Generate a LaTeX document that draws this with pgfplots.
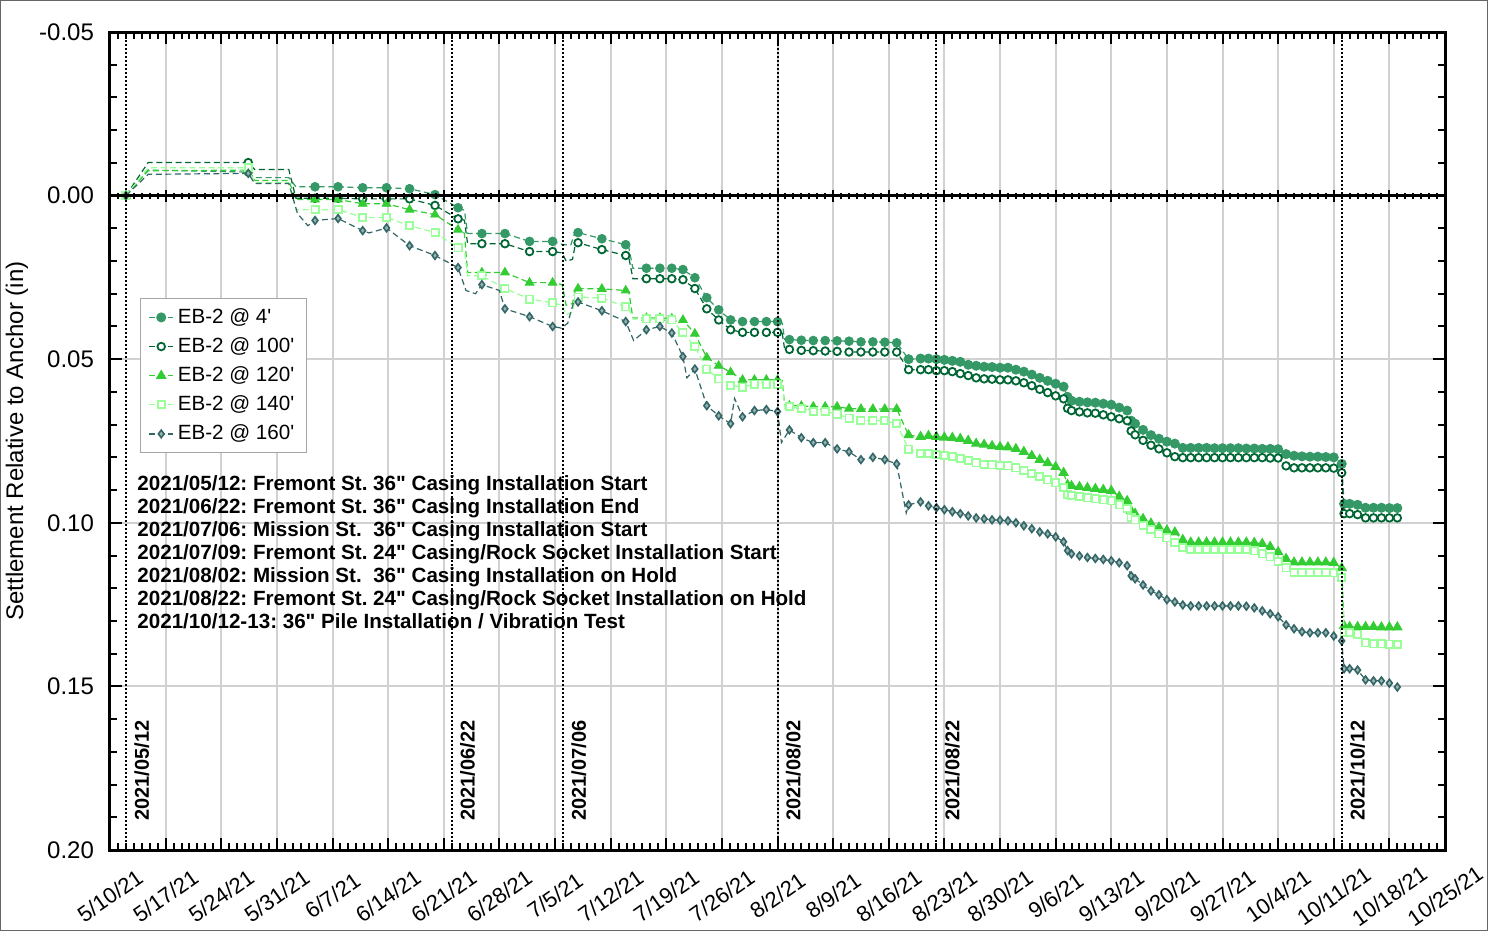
\documentclass[border=0pt]{standalone}
\usepackage{pgfplots}
\pgfplotsset{compat=1.18}
\usepackage{fontspec}
\setmainfont{Liberation Sans}[Ligatures=TeXOff]
\frenchspacing

\definecolor{c4}{RGB}{52,153,102}
\definecolor{c100}{RGB}{0,102,51}
\definecolor{c120}{RGB}{51,204,51}
\definecolor{c140}{RGB}{153,255,153}
\definecolor{c160}{RGB}{51,102,102}

\pgfplotsset{
  dline/.style={dash pattern=on 3pt off 1.8pt, line width=0.6pt},
  l4/.style={c4, dline}, l100/.style={c100, dline}, l120/.style={c120, dline},
  l140/.style={c140, dline}, l160/.style={c160, dline},
  m4/.style={mark=*, mark size=2.2pt, mark options={solid, fill=c4, draw=c4}},
  m100/.style={mark=*, mark size=1.9pt, mark options={solid, fill=white, draw=c100, line width=0.9pt}},
  m120/.style={mark=triangle*, mark size=2.5pt, mark options={solid, fill=c120, draw=c120}},
  m140/.style={mark=square*, mark size=1.8pt, mark options={solid, fill=white, draw=c140, line width=0.9pt}},
  m160/.style={mark=diamond*, mark size=1.9pt, mark options={solid, fill=c160!50!white, draw=c160, line width=0.8pt}},
}

\begin{document}
\begin{tikzpicture}
\begin{axis}[
  scale only axis, width=667.5pt, height=409pt,
  xmin=0, xmax=168, ymin=-0.05, ymax=0.20, y dir=reverse,
  xtick={0,7,...,168},
  xticklabels={5/10/21,5/17/21,5/24/21,5/31/21,6/7/21,6/14/21,6/21/21,6/28/21,7/5/21,7/12/21,7/19/21,7/26/21,8/2/21,8/9/21,8/16/21,8/23/21,8/30/21,9/6/21,9/13/21,9/20/21,9/27/21,10/4/21,10/11/21,10/18/21,10/25/21},
  ytick={-0.05,0,0.05,0.10,0.15,0.20},
  yticklabels={-0.05,0.00,0.05,0.10,0.15,0.20},
  minor x tick num=6, minor y tick num=4,
  xtick pos=both, ytick pos=both,
  tick style={black, line width=1pt},
  major tick length=6pt, minor tick length=3.5pt,
  axis line style={line width=1.5pt},
  grid=major, major grid style={line width=1pt, color=black!18},
  xticklabel style={font=\fontsize{11}{13}\selectfont, yshift=-23pt, rotate=35, anchor=center},
  yticklabel style={font=\fontsize{12}{14}\selectfont, xshift=-4.5pt},
  ylabel={Settlement Relative to Anchor (in)},
  every axis y label/.style={at={(axis description cs:-0.0697,0.5)}, rotate=90, anchor=center, font=\fontsize{12}{14}\selectfont},
  clip mode=individual,
  legend style={at={(axis description cs:0.0225,0.675)}, anchor=north west, draw=black!35, line width=0.6pt, fill=white,
    font=\fontsize{10.3}{12}\selectfont, row sep=1.6pt, inner xsep=4pt, inner ysep=3pt},
  legend cell align=left,
  legend image code/.code={\draw[mark repeat=2,mark phase=2] plot coordinates {(0pt,0pt)(6pt,0pt)(12pt,0pt)};},
]

% EB-2 @ 4'
\addplot[l4, forget plot] coordinates {(2,0)(4.8,-0.0078)(17.4,-0.0072)(18.1,-0.0055)(22.5,-0.0055)(23.4,-0.0027)(25.8,-0.0027)(28.7,-0.0027)(31.8,-0.0024)(34.8,-0.0024)(37.7,-0.0021)(40.9,-0.0003)(43.8,0.0037)(44.6,0.0045)(45.0,0.0116)(46.8,0.0116)(49.7,0.0116)(52.8,0.0140)(55.7,0.0140)(57.0,0.0150)(58.0,0.0150)(58.5,0.0113)(58.9,0.0113)(61.9,0.0132)(64.9,0.0150)(65.3,0.0160)(65.8,0.0222)(67.5,0.0222)(69.2,0.0222)(70.7,0.0222)(72.1,0.0226)(73.6,0.0251)(75.1,0.0312)(76.6,0.0349)(78.1,0.0380)(79.6,0.0385)(81.1,0.0385)(82.6,0.0385)(84.0,0.0385)(84.6,0.0390)(84.9,0.0440)(85.5,0.0440)(87.0,0.0442)(88.5,0.0443)(90.0,0.0443)(91.5,0.0444)(93.0,0.0445)(94.5,0.0447)(96.0,0.0447)(97.5,0.0448)(99.0,0.0450)(100.5,0.0500)};
\addplot[m4, only marks, forget plot] coordinates {(2,0)(17.4,-0.0072)(25.8,-0.0027)(28.7,-0.0027)(31.8,-0.0024)(34.8,-0.0024)(37.7,-0.0021)(40.9,-0.0003)(43.8,0.0037)(46.8,0.0116)(49.7,0.0116)(52.8,0.0140)(55.7,0.0140)(58.9,0.0113)(61.9,0.0132)(64.9,0.0150)(67.5,0.0222)(69.2,0.0222)(70.7,0.0222)(72.1,0.0226)(73.6,0.0251)(75.1,0.0312)(76.6,0.0349)(78.1,0.0380)(79.6,0.0385)(81.1,0.0385)(82.6,0.0385)(84.0,0.0385)(85.5,0.0440)(87.0,0.0442)(88.5,0.0443)(90.0,0.0443)(91.5,0.0444)(93.0,0.0445)(94.5,0.0447)(96.0,0.0447)(97.5,0.0448)(99.0,0.0450)};
\addplot[l4, m4] coordinates {(100.5,0.0500)(102,0.0498)(103,0.0498)(104,0.0500)(105,0.0502)(106,0.0505)(107,0.0508)(108,0.0517)(109,0.0520)(110,0.0523)(111,0.0524)(112,0.0526)(113,0.0526)(114,0.0532)(115,0.0538)(116,0.0547)(117,0.0557)(118,0.0566)(119,0.0575)(120,0.0584)(120.5,0.0615)(121,0.0627)(122,0.0630)(123,0.0632)(124,0.0633)(125,0.0636)(126,0.0639)(127,0.0648)(128,0.0657)(128.5,0.0688)(129,0.0697)(130,0.0716)(131,0.0732)(132,0.0743)(133,0.0752)(134,0.0758)(135,0.0771)(136,0.0771)(137,0.0771)(138,0.0771)(139,0.0772)(140,0.0772)(141,0.0772)(142,0.0772)(143,0.0773)(144,0.0773)(145,0.0774)(146,0.0774)(147,0.0775)(148,0.0790)(149,0.0795)(150,0.0797)(151,0.0798)(152,0.0798)(153,0.0799)(154,0.0800)(155,0.0820)(155.3,0.0942)(156,0.0942)(157,0.0945)(158,0.0954)(159,0.0954)(160,0.0954)(161,0.0955)(162,0.0955)};
\addlegendentry{EB-2 @ 4'}

% EB-2 @ 100'
\addplot[l100, forget plot] coordinates {(2,0)(4.8,-0.0101)(17.4,-0.0101)(18.2,-0.0080)(22.5,-0.0080)(23.4,0.0008)(25.8,0.0008)(28.7,0.0008)(31.8,0.0010)(34.8,0.0010)(37.7,0.0010)(40.9,0.0030)(43.8,0.0071)(44.6,0.0075)(45.0,0.0147)(46.8,0.0147)(49.7,0.0147)(52.8,0.0171)(55.7,0.0171)(56.9,0.0175)(57.4,0.0200)(58.2,0.0195)(58.6,0.0144)(58.9,0.0144)(61.9,0.0165)(64.9,0.0183)(65.3,0.0190)(65.8,0.0254)(67.5,0.0254)(69.2,0.0254)(70.7,0.0254)(72.1,0.0257)(73.6,0.0284)(75.1,0.0346)(76.6,0.0380)(78.1,0.0410)(79.6,0.0418)(81.1,0.0418)(82.6,0.0418)(84.0,0.0418)(84.6,0.0421)(84.9,0.0470)(85.5,0.0470)(87.0,0.0473)(88.5,0.0474)(90.0,0.0475)(91.5,0.0476)(93.0,0.0478)(94.5,0.0478)(96.0,0.0478)(97.5,0.0478)(99.0,0.0478)(100.5,0.0532)};
\addplot[m100, only marks, forget plot] coordinates {(2,0)(17.4,-0.0101)(25.8,0.0008)(28.7,0.0008)(31.8,0.0010)(34.8,0.0010)(37.7,0.0010)(40.9,0.0030)(43.8,0.0071)(46.8,0.0147)(49.7,0.0147)(52.8,0.0171)(55.7,0.0171)(58.9,0.0144)(61.9,0.0165)(64.9,0.0183)(67.5,0.0254)(69.2,0.0254)(70.7,0.0254)(72.1,0.0257)(73.6,0.0284)(75.1,0.0346)(76.6,0.0380)(78.1,0.0410)(79.6,0.0418)(81.1,0.0418)(82.6,0.0418)(84.0,0.0418)(85.5,0.0470)(87.0,0.0473)(88.5,0.0474)(90.0,0.0475)(91.5,0.0476)(93.0,0.0478)(94.5,0.0478)(96.0,0.0478)(97.5,0.0478)(99.0,0.0478)};
\addplot[l100, m100] coordinates {(100.5,0.0532)(102,0.0532)(103,0.0532)(104,0.0535)(105,0.0535)(106,0.0538)(107,0.0544)(108,0.0550)(109,0.0557)(110,0.0560)(111,0.0561)(112,0.0563)(113,0.0563)(114,0.0566)(115,0.0572)(116,0.0581)(117,0.0592)(118,0.0602)(119,0.0612)(120,0.0621)(120.5,0.0650)(121,0.0657)(122,0.0661)(123,0.0664)(124,0.0665)(125,0.0670)(126,0.0676)(127,0.0682)(128,0.0688)(128.5,0.0719)(129,0.0731)(130,0.0748)(131,0.0763)(132,0.0774)(133,0.0786)(134,0.0798)(135,0.0801)(136,0.0801)(137,0.0801)(138,0.0801)(139,0.0801)(140,0.0801)(141,0.0801)(142,0.0801)(143,0.0801)(144,0.0801)(145,0.0801)(146,0.0802)(147,0.0802)(148,0.0826)(149,0.0832)(150,0.0832)(151,0.0832)(152,0.0832)(153,0.0832)(154,0.0833)(155,0.0847)(155.3,0.0972)(156,0.0972)(157,0.0975)(158,0.0985)(159,0.0985)(160,0.0985)(161,0.0985)(162,0.0985)};
\addlegendentry{EB-2 @ 100'}

% EB-2 @ 120'
\addplot[l120, forget plot] coordinates {(2,0)(4.8,-0.0076)(17.4,-0.0078)(18.2,-0.0046)(22.5,-0.0046)(23.4,0.0012)(25.8,0.0012)(28.7,0.0012)(31.8,0.0025)(34.8,0.0025)(37.7,0.0043)(40.9,0.0058)(43.8,0.0104)(44.6,0.0115)(45.0,0.0235)(46.8,0.0235)(49.7,0.0235)(52.8,0.0266)(55.7,0.0266)(56.9,0.0272)(57.4,0.0335)(58.2,0.0330)(58.6,0.0284)(58.9,0.0284)(61.9,0.0285)(64.9,0.0290)(65.3,0.0295)(65.8,0.0374)(67.5,0.0374)(69.2,0.0374)(70.7,0.0376)(72.1,0.0380)(73.6,0.0422)(75.1,0.0495)(76.6,0.0520)(78.1,0.0540)(79.6,0.0563)(81.1,0.0563)(82.6,0.0563)(84.0,0.0563)(84.6,0.0566)(84.9,0.0642)(85.5,0.0642)(87.0,0.0643)(88.5,0.0645)(90.0,0.0645)(91.5,0.0645)(93.0,0.0651)(94.5,0.0652)(96.0,0.0652)(97.5,0.0652)(99.0,0.0652)(100.5,0.0732)};
\addplot[m120, only marks, forget plot] coordinates {(2,0)(17.4,-0.0078)(25.8,0.0012)(28.7,0.0012)(31.8,0.0025)(34.8,0.0025)(37.7,0.0043)(40.9,0.0058)(43.8,0.0104)(46.8,0.0235)(49.7,0.0235)(52.8,0.0266)(55.7,0.0266)(58.9,0.0284)(61.9,0.0285)(64.9,0.0290)(67.5,0.0374)(69.2,0.0374)(70.7,0.0376)(72.1,0.0380)(73.6,0.0422)(75.1,0.0495)(76.6,0.0520)(78.1,0.0540)(79.6,0.0563)(81.1,0.0563)(82.6,0.0563)(84.0,0.0563)(85.5,0.0642)(87.0,0.0643)(88.5,0.0645)(90.0,0.0645)(91.5,0.0645)(93.0,0.0651)(94.5,0.0652)(96.0,0.0652)(97.5,0.0652)(99.0,0.0652)};
\addplot[l120, m120] coordinates {(100.5,0.0732)(102,0.0737)(103,0.0734)(104,0.0737)(105,0.0739)(106,0.0740)(107,0.0743)(108,0.0749)(109,0.0758)(110,0.0761)(111,0.0765)(112,0.0768)(113,0.0769)(114,0.0774)(115,0.0783)(116,0.0795)(117,0.0807)(118,0.0817)(119,0.0829)(120,0.0847)(120.5,0.0884)(121,0.0887)(122,0.0890)(123,0.0893)(124,0.0896)(125,0.0899)(126,0.0902)(127,0.0920)(128,0.0933)(128.5,0.0963)(129,0.0972)(130,0.0988)(131,0.1002)(132,0.1014)(133,0.1023)(134,0.1029)(135,0.1052)(136,0.1060)(137,0.1060)(138,0.1060)(139,0.1060)(140,0.1060)(141,0.1060)(142,0.1060)(143,0.1060)(144,0.1061)(145,0.1064)(146,0.1073)(147,0.1089)(148,0.1110)(149,0.1121)(150,0.1121)(151,0.1121)(152,0.1121)(153,0.1121)(154,0.1122)(155,0.1138)(155.3,0.1315)(156,0.1318)(157,0.1318)(158,0.1318)(159,0.1318)(160,0.1319)(161,0.1319)(162,0.1319)};
\addlegendentry{EB-2 @ 120'}

% EB-2 @ 140'
\addplot[l140, forget plot] coordinates {(2,0)(4.8,-0.0085)(17.4,-0.0085)(18.2,-0.0040)(22.5,-0.0040)(23.4,0.0043)(25.8,0.0043)(28.7,0.0043)(31.8,0.0067)(34.8,0.0067)(37.7,0.0092)(40.9,0.0113)(43.8,0.0160)(44.6,0.0170)(45.0,0.0245)(46.8,0.0245)(49.7,0.0284)(52.8,0.0316)(55.7,0.0328)(56.9,0.0335)(57.4,0.0365)(58.2,0.0355)(58.6,0.0310)(58.9,0.0310)(61.9,0.0313)(64.9,0.0340)(65.3,0.0345)(65.8,0.0377)(67.5,0.0377)(69.2,0.0377)(70.7,0.0380)(72.1,0.0418)(73.6,0.0462)(75.1,0.0530)(76.6,0.0560)(78.1,0.0580)(79.6,0.0585)(81.1,0.0576)(82.6,0.0576)(84.0,0.0576)(84.6,0.0580)(84.9,0.0645)(85.5,0.0645)(87.0,0.0650)(88.5,0.0660)(90.0,0.0660)(91.5,0.0668)(93.0,0.0680)(94.5,0.0688)(96.0,0.0688)(97.5,0.0688)(99.0,0.0697)(100.5,0.0775)};
\addplot[m140, only marks, forget plot] coordinates {(2,0)(17.4,-0.0085)(25.8,0.0043)(28.7,0.0043)(31.8,0.0067)(34.8,0.0067)(37.7,0.0092)(40.9,0.0113)(43.8,0.0160)(46.8,0.0245)(49.7,0.0284)(52.8,0.0316)(55.7,0.0328)(58.9,0.0310)(61.9,0.0313)(64.9,0.0340)(67.5,0.0377)(69.2,0.0377)(70.7,0.0380)(72.1,0.0418)(73.6,0.0462)(75.1,0.0530)(76.6,0.0560)(78.1,0.0580)(79.6,0.0585)(81.1,0.0576)(82.6,0.0576)(84.0,0.0576)(85.5,0.0645)(87.0,0.0650)(88.5,0.0660)(90.0,0.0660)(91.5,0.0668)(93.0,0.0680)(94.5,0.0688)(96.0,0.0688)(97.5,0.0688)(99.0,0.0697)};
\addplot[l140, m140] coordinates {(100.5,0.0775)(102,0.0789)(103,0.0789)(104,0.0792)(105,0.0795)(106,0.0798)(107,0.0804)(108,0.0810)(109,0.0817)(110,0.0821)(111,0.0823)(112,0.0824)(113,0.0826)(114,0.0832)(115,0.0841)(116,0.0850)(117,0.0859)(118,0.0869)(119,0.0878)(120,0.0893)(120.5,0.0914)(121,0.0917)(122,0.0920)(123,0.0924)(124,0.0927)(125,0.0930)(126,0.0933)(127,0.0945)(128,0.0957)(128.5,0.0984)(129,0.0991)(130,0.1009)(131,0.1021)(132,0.1034)(133,0.1046)(134,0.1061)(135,0.1076)(136,0.1081)(137,0.1081)(138,0.1081)(139,0.1081)(140,0.1081)(141,0.1081)(142,0.1081)(143,0.1081)(144,0.1086)(145,0.1095)(146,0.1104)(147,0.1119)(148,0.1138)(149,0.1151)(150,0.1151)(151,0.1151)(152,0.1151)(153,0.1151)(154,0.1153)(155,0.1168)(155.3,0.1336)(156,0.1336)(157,0.1340)(158,0.1367)(159,0.1370)(160,0.1370)(161,0.1371)(162,0.1372)};
\addlegendentry{EB-2 @ 140'}

% EB-2 @ 160'
\addplot[l160, forget plot] coordinates {(2,0)(4.8,-0.0065)(17.4,-0.0068)(18.2,-0.0037)(22.5,-0.0037)(23.6,0.0055)(24.9,0.0092)(25.8,0.0076)(28.7,0.0070)(31.8,0.0107)(32.6,0.0114)(34.8,0.0099)(37.7,0.0153)(40.9,0.0183)(43.8,0.0220)(44.8,0.0290)(46.0,0.0300)(46.8,0.0272)(49.0,0.0290)(49.7,0.0346)(52.8,0.0370)(55.7,0.0400)(56.8,0.0405)(57.6,0.0390)(58.3,0.0330)(58.9,0.0325)(61.9,0.0352)(64.9,0.0385)(65.9,0.0443)(67.5,0.0410)(69.2,0.0400)(70.7,0.0420)(72.1,0.0492)(72.6,0.0557)(73.6,0.0530)(75.1,0.0642)(76.6,0.0673)(78.1,0.0697)(78.6,0.0620)(79.6,0.0676)(81.1,0.0657)(82.6,0.0654)(84.0,0.0660)(84.5,0.0755)(85.5,0.0716)(87.0,0.0740)(88.5,0.0755)(90.0,0.0755)(91.5,0.0774)(93.0,0.0783)(94.5,0.0807)(96.0,0.0800)(97.5,0.0807)(99.0,0.0820)(100.2,0.0970)(100.5,0.0945)};
\addplot[m160, only marks, forget plot] coordinates {(2,0)(17.4,-0.0068)(25.8,0.0076)(28.7,0.0070)(31.8,0.0107)(34.8,0.0099)(37.7,0.0153)(40.9,0.0183)(43.8,0.0220)(46.8,0.0272)(49.7,0.0346)(52.8,0.0370)(55.7,0.0400)(58.9,0.0325)(61.9,0.0352)(64.9,0.0385)(67.5,0.0410)(69.2,0.0400)(70.7,0.0420)(72.1,0.0492)(73.6,0.0530)(75.1,0.0642)(76.6,0.0673)(78.1,0.0697)(79.6,0.0676)(81.1,0.0657)(82.6,0.0654)(84.0,0.0660)(85.5,0.0716)(87.0,0.0740)(88.5,0.0755)(90.0,0.0755)(91.5,0.0774)(93.0,0.0783)(94.5,0.0807)(96.0,0.0800)(97.5,0.0807)(99.0,0.0820)};
\addplot[l160, m160] coordinates {(100.5,0.0945)(102,0.0936)(103,0.0948)(104,0.0954)(105,0.0960)(106,0.0966)(107,0.0972)(108,0.0979)(109,0.0985)(110,0.0988)(111,0.0991)(112,0.0992)(113,0.0994)(114,0.1000)(115,0.1009)(116,0.1018)(117,0.1028)(118,0.1034)(119,0.1043)(120,0.1058)(120.5,0.1085)(121,0.1095)(122,0.1101)(123,0.1106)(124,0.1109)(125,0.1112)(126,0.1116)(127,0.1122)(128,0.1131)(128.5,0.1162)(129,0.1171)(130,0.1190)(131,0.1208)(132,0.1220)(133,0.1235)(134,0.1242)(135,0.1251)(136,0.1254)(137,0.1254)(138,0.1254)(139,0.1254)(140,0.1254)(141,0.1254)(142,0.1254)(143,0.1255)(144,0.1260)(145,0.1269)(146,0.1278)(147,0.1287)(148,0.1312)(149,0.1324)(150,0.1333)(151,0.1336)(152,0.1336)(153,0.1336)(154,0.1346)(155,0.1361)(155.3,0.1446)(156,0.1446)(157,0.1450)(158,0.1480)(159,0.1483)(160,0.1483)(161,0.1490)(162,0.1502)};
\addlegendentry{EB-2 @ 160'}

% event lines
\draw[black, densely dotted, line width=1pt] (axis cs:2,-0.05) -- (axis cs:2,0.20);
\draw[black, densely dotted, line width=1pt] (axis cs:43,-0.05) -- (axis cs:43,0.20);
\draw[black, densely dotted, line width=1pt] (axis cs:57,-0.05) -- (axis cs:57,0.20);
\draw[black, densely dotted, line width=1pt] (axis cs:84,-0.05) -- (axis cs:84,0.20);
\draw[black, densely dotted, line width=1pt] (axis cs:104,-0.05) -- (axis cs:104,0.20);
\draw[black, densely dotted, line width=1pt] (axis cs:155,-0.05) -- (axis cs:155,0.20);

\tikzset{evlabel/.style={rotate=90, anchor=north west, inner sep=0pt, font=\bfseries\fontsize{10}{12}\selectfont}}
\node[evlabel] at ([xshift=4pt]axis cs:2,0.1911) {2021/05/12};
\node[evlabel] at ([xshift=4pt]axis cs:43,0.1911) {2021/06/22};
\node[evlabel] at ([xshift=4pt]axis cs:57,0.1911) {2021/07/06};
\node[evlabel] at ([xshift=4pt]axis cs:84,0.1911) {2021/08/02};
\node[evlabel] at ([xshift=4pt]axis cs:104,0.1911) {2021/08/22};
\node[evlabel] at ([xshift=4pt]axis cs:155,0.1911) {2021/10/12};

\node[anchor=north west, align=left, inner sep=0pt, font=\bfseries\fontsize{10.3}{11.5}\selectfont] at (axis cs:3.4,0.0853) {%
2021/05/12: Fremont St. 36" Casing Installation Start\\
2021/06/22: Fremont St. 36" Casing Installation End\\
2021/07/06: Mission St.\ \ 36" Casing Installation Start\\
2021/07/09: Fremont St. 24" Casing/Rock Socket Installation Start\\
2021/08/02: Mission St.\ \ 36" Casing Installation on Hold\\
2021/08/22: Fremont St. 24" Casing/Rock Socket Installation on Hold\\
2021/10/12-13: 36" Pile Installation / Vibration Test};
\end{axis}

% zero line with its own ticks
\begin{axis}[
  scale only axis, width=667.5pt, height=409pt,
  xmin=0, xmax=168, ymin=-0.05, ymax=0.20, y dir=reverse,
  axis x line=middle, axis y line=none,
  axis line style={-, line width=1.5pt},
  xtick={0,7,...,168}, minor x tick num=6, xticklabels={},
  tick align=center, major tick length=6pt, minor tick length=3pt,
  tick style={black, line width=1pt},
]
\end{axis}

\pgfresetboundingbox
\draw[black!60, line width=0.5pt] ([xshift=-54.7pt,yshift=-40.2pt]current axis.south west) rectangle ([xshift=21pt,yshift=15.7pt]current axis.north east);
\path[use as bounding box] ([xshift=-55pt,yshift=-40.5pt]current axis.south west) rectangle ([xshift=24.5pt,yshift=16pt]current axis.north east);
\end{tikzpicture}
\end{document}
